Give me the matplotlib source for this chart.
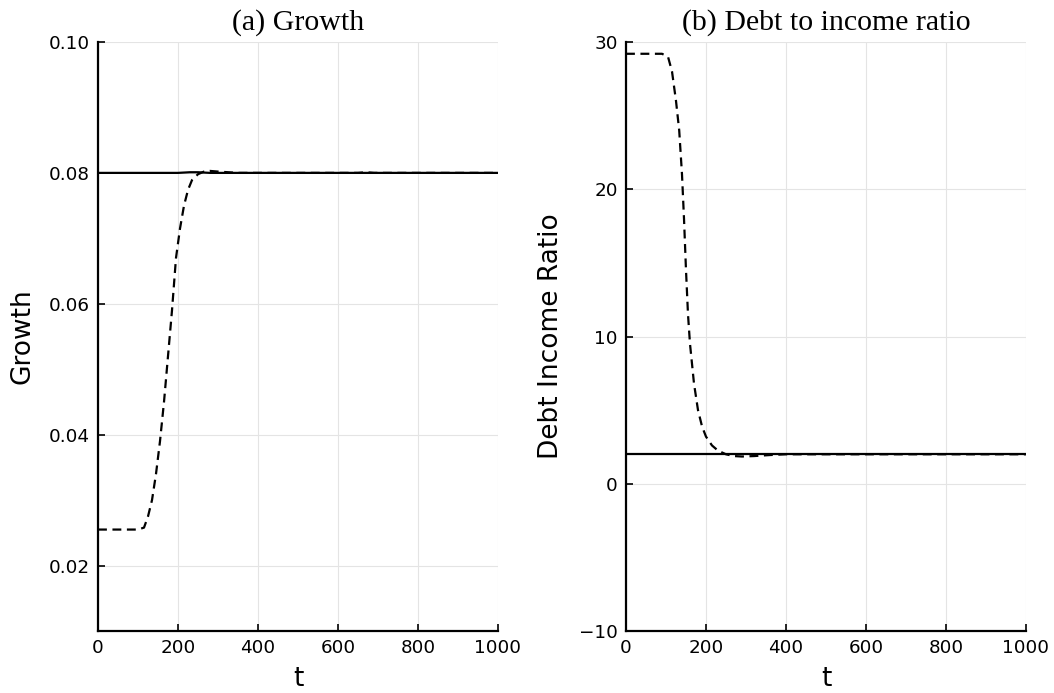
import numpy as np
import matplotlib.pyplot as plt

# values
t_growth = [0, 100, 115, 125, 135, 145, 155, 165, 175, 185, 195, 205, 215,
            225, 235, 250, 265, 280, 300, 350, 500, 650, 670, 690, 720, 1000]
growth_dash = [0.0255, 0.0255, 0.0258, 0.0275, 0.030, 0.034, 0.039, 0.045,
               0.052, 0.059, 0.067, 0.0715, 0.0750, 0.0774, 0.0789, 0.0798,
               0.0802, 0.0803, 0.0802, 0.0800, 0.0800, 0.0800, 0.0801,
               0.0800, 0.0800, 0.0800]
t_growth_solid = [0, 200, 230, 250, 280, 1000]
growth_solid = [0.0800, 0.0800, 0.0801, 0.0801, 0.0800, 0.0800]

t_debt = [0, 90, 105, 115, 125, 133, 140, 145, 150, 155, 160, 170, 180, 190,
          200, 215, 230, 250, 270, 290, 320, 360, 400, 1000]
debt_dash = [29.2, 29.2, 29.0, 28.0, 26.0, 24.0, 21.0, 18.0, 14.5, 11.5, 9.5,
             6.8, 5.0, 3.9, 3.2, 2.6, 2.25, 2.0, 1.88, 1.85, 1.88, 1.95, 2.0,
             2.0]
t_debt_solid = [0, 1000]
debt_solid = [2.0, 2.0]

xticks = [0, 200, 400, 600, 800, 1000]

fig = plt.figure(figsize=(10.54, 6.93), dpi=100)
ax1 = fig.add_axes([98/1054, 62/693, 400/1054, 589/693])
ax2 = fig.add_axes([626/1054, 62/693, 400/1054, 589/693])


def style(ax):
    for s in ['top', 'right']:
        ax.spines[s].set_visible(False)
    for s in ['left', 'bottom']:
        ax.spines[s].set_linewidth(1.6)
    ax.tick_params(direction='in', length=5, width=1.2, labelsize=13.2,
                   pad=6)
    ax.grid(True, color='#e4e4e4', linewidth=0.8)
    ax.set_axisbelow(True)
    ax.set_xlim(0, 1000)
    ax.set_xticks(xticks)
    ax.set_xlabel('t', fontsize=19)
    ax.xaxis.set_label_coords(0.5, -0.06)
    ax.yaxis.set_label_coords(-0.155, 0.5)


ax1.plot(t_growth_solid, growth_solid, color='black', linewidth=1.6)
ax1.plot(t_growth, growth_dash, color='black', linewidth=1.6,
         linestyle=(0, (4, 2.5)))
style(ax1)
ax1.set_ylim(0.01, 0.10)
ax1.set_yticks([0.02, 0.04, 0.06, 0.08, 0.10])
ax1.set_yticklabels(['0.02', '0.04', '0.06', '0.08', '0.10'])
ax1.set_ylabel('Growth', fontsize=19)
ax1.set_title('(a) Growth', fontsize=21.5, family='Liberation Serif', pad=9)

ax2.plot(t_debt_solid, debt_solid, color='black', linewidth=1.6)
ax2.plot(t_debt, debt_dash, color='black', linewidth=1.6,
         linestyle=(0, (4, 2.5)))
style(ax2)
ax2.set_ylim(-10, 30)
ax2.set_yticks([-10, 0, 10, 20, 30])
ax2.set_ylabel('Debt Income Ratio', fontsize=19)
ax2.set_title('(b) Debt to income ratio', fontsize=21.5,
              family='Liberation Serif', pad=9)

fig.savefig('out.png', dpi=100)
